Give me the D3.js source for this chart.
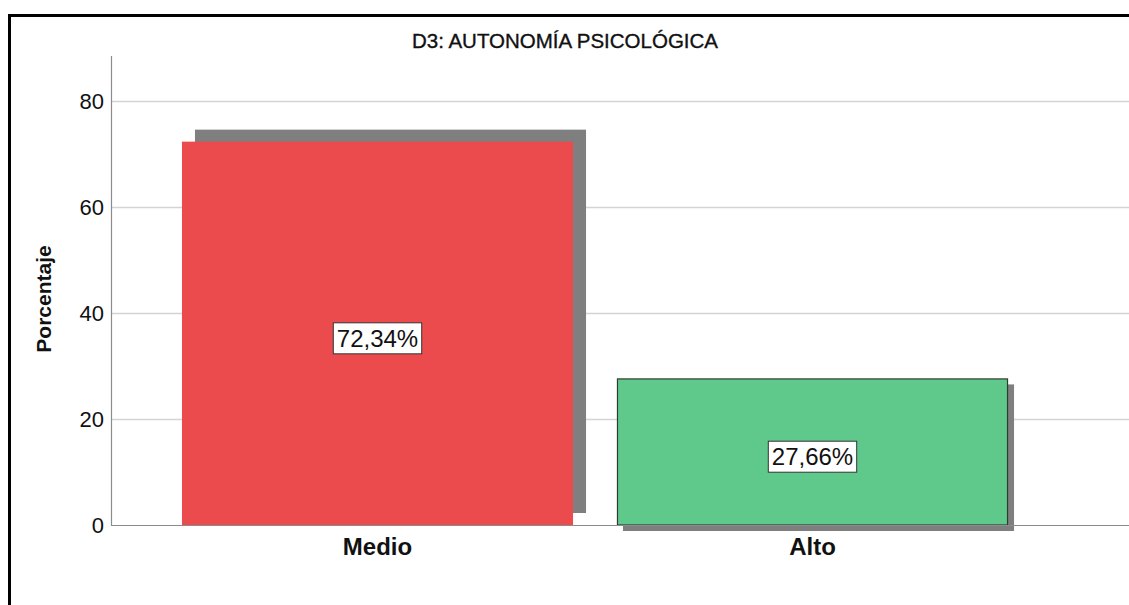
<!DOCTYPE html>
<html><head><meta charset="utf-8">
<script src="https://cdn.jsdelivr.net/npm/d3@7"></script>
<style>
html,body{margin:0;padding:0;background:#fff;}
svg{display:block;font-family:Arial,"Liberation Sans",sans-serif;}
</style></head>
<body>
<svg id="chart" width="1129" height="605"></svg>
<script>
const title = "D3: AUTONOMÍA PSICOLÓGICA";
const categories = ["Medio", "Alto"];
const values = [72.34, 27.66];
const valueLabels = ["72,34%", "27,66%"];
const yTicks = [0, 20, 40, 60, 80];
const yLabel = "Porcentaje";

(function () {
const svg = d3.select("#chart");
const W = 1129, H = 605;
const pLeft = 111, pRight = 1129, pTop = 56, pBottom = 525;

const x = d3.scaleBand().domain(categories).range([160, 1030]).paddingInner(0.101).paddingOuter(0.0505);
const y = d3.scaleLinear().domain([0, 88.5]).range([pBottom, pTop]);

const colors = {"Medio": "#ec4b4d", "Alto": "#5ec98b"};
const shadowOff = {"Medio": [13, -12], "Alto": [6, 6]};
const outline = {"Medio": "none", "Alto": "#2f3a33"};

// frame
svg.append("path").attr("d", `M9.5,${H} L9.5,15.5 L${W},15.5`).attr("fill","none").attr("stroke","#000").attr("stroke-width",3);

// gridlines
svg.append("g").selectAll("line").data(yTicks.filter(d => d > 0)).join("line")
  .attr("x1", pLeft).attr("x2", pRight).attr("y1", d => y(d) + 0.5).attr("y2", d => y(d) + 0.5)
  .attr("stroke", "#d4d4d4").attr("stroke-width", 1.5);

const data = categories.map((c, i) => ({c, v: values[i], lab: valueLabels[i]}));

// shadows
svg.append("g").selectAll("rect").data(data).join("rect")
  .attr("x", d => x(d.c) + shadowOff[d.c][0])
  .attr("y", d => y(d.v) + shadowOff[d.c][1])
  .attr("width", x.bandwidth())
  .attr("height", d => y(0) - y(d.v))
  .attr("fill", "#7f7f7f");

// bars
svg.append("g").selectAll("rect").data(data).join("rect")
  .attr("x", d => x(d.c) + (outline[d.c] === "none" ? 0 : 0.5))
  .attr("y", d => y(d.v) + (outline[d.c] === "none" ? 0 : 0.5))
  .attr("width", d => x.bandwidth() - (outline[d.c] === "none" ? 0 : 1))
  .attr("height", d => y(0) - y(d.v) - (outline[d.c] === "none" ? 0 : 0.5))
  .attr("fill", d => colors[d.c])
  .attr("stroke", d => outline[d.c]).attr("stroke-width", 1.2);

// axes lines
svg.append("line").attr("x1", pLeft + 0.5).attr("x2", pLeft + 0.5).attr("y1", pTop).attr("y2", pBottom + 0.5)
  .attr("stroke", "#8c8c8c").attr("stroke-width", 1.2);
svg.append("line").attr("x1", pLeft).attr("x2", pRight).attr("y1", pBottom + 0.5).attr("y2", pBottom + 0.5)
  .attr("stroke", "#8c8c8c").attr("stroke-width", 1.2);

// y tick labels
svg.append("g").selectAll("text").data(yTicks).join("text")
  .attr("x", 104).attr("y", d => y(d)).attr("dy", "0.36em")
  .attr("text-anchor", "end").attr("font-size", 22).attr("fill", "#111")
  .text(d => d);

// x labels
svg.append("g").selectAll("text").data(categories).join("text")
  .attr("x", d => x(d) + x.bandwidth() / 2).attr("y", 555)
  .attr("text-anchor", "middle").attr("font-size", 24).attr("font-weight", "bold").attr("fill", "#111")
  .text(d => d);

// y label
svg.append("text").attr("transform", "translate(51,299) rotate(-90)")
  .attr("text-anchor", "middle").attr("font-size", 21).attr("font-weight", "bold").attr("fill", "#111")
  .text(yLabel);

// title
svg.append("text").attr("x", 565).attr("y", 48).attr("text-anchor", "middle")
  .attr("font-size", 20.5).attr("fill", "#111").attr("stroke", "#111").attr("stroke-width", 0.35).text(title);

// value labels
const lg = svg.append("g").selectAll("g").data(data).join("g")
  .attr("transform", d => `translate(${x(d.c) + x.bandwidth() / 2},${(y(d.v) + y(0)) / 2 + 5})`);
lg.each(function(d) {
  const g = d3.select(this);
  const t = g.append("text").attr("text-anchor", "middle").attr("dy", "0.36em")
    .attr("font-size", 24).attr("fill", "#111").text(d.lab);
  const bb = t.node().getBBox();
  g.insert("rect", "text").attr("x", bb.x - 3.5).attr("y", -15.5).attr("width", bb.width + 7).attr("height", 31)
    .attr("fill", "#fff").attr("stroke", "#333").attr("stroke-width", 1);
});
})();
</script>
</body></html>
